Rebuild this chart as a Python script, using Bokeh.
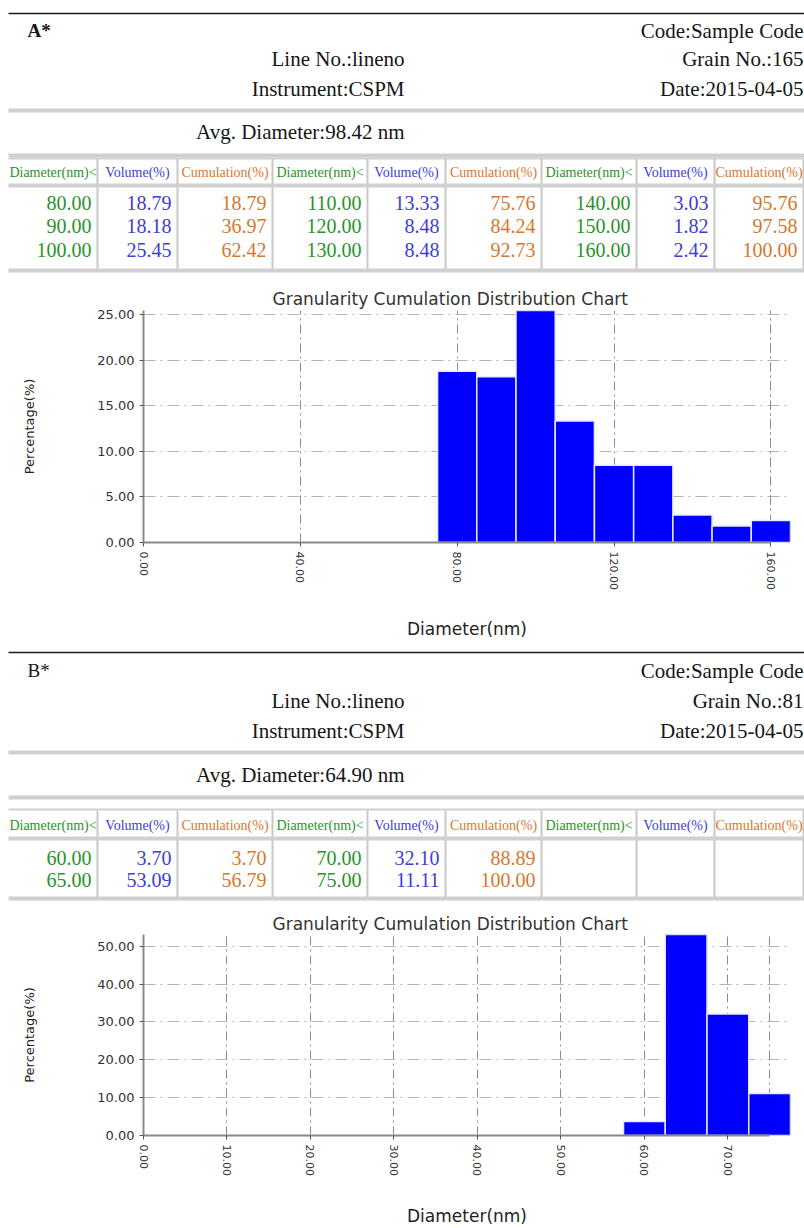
import math
from bokeh.plotting import figure
from bokeh.layouts import column
from bokeh.models import Range1d, FixedTicker, PrintfTickFormatter, Grid
from bokeh.core.properties import value
from bokeh.embed import file_html
from bokeh.resources import INLINE

# ---------------- data ----------------
section_labels = ["A*", "B*"]
codes = ["Sample Code", "Sample Code"]
line_nos = ["lineno", "lineno"]
instruments = ["CSPM", "CSPM"]
grain_nos = [165, 81]
dates = ["2015-04-05", "2015-04-05"]
avg_diameters = [98.42, 64.90]

table_headers = ["Diameter(nm)<", "Volume(%)", "Cumulation(%)"]

diam_a = [80, 90, 100, 110, 120, 130, 140, 150, 160]
vol_a = [18.79, 18.18, 25.45, 13.33, 8.48, 8.48, 3.03, 1.82, 2.42]
cum_a = [18.79, 36.97, 62.42, 75.76, 84.24, 92.73, 95.76, 97.58, 100.00]

diam_b = [60, 65, 70, 75]
vol_b = [3.70, 53.09, 32.10, 11.11]
cum_b = [3.70, 56.79, 88.89, 100.00]

x_ticks_a = [0, 40, 80, 120, 160]
y_ticks_a = [0, 5, 10, 15, 20, 25]
x_ticks_b = [0, 10, 20, 30, 40, 50, 60, 70]
y_ticks_b = [0, 10, 20, 30, 40, 50]

chart_title = "Granularity Cumulation Distribution  Chart"
x_label = "Diameter(nm)"
y_label = "Percentage(%)"

# ---------------- styles / layout ----------------
W = 804
SERIF = value("Liberation Serif")
GREEN = "#2a922a"
BLUE = "#3d3dd6"
ORANGE = "#d6782e"
TXT = "#161616"
BAND = "#d0d0d0"
VSEP = "#c8c8c8"
col_edges = [8, 97, 177, 272, 367, 445, 541, 636, 714, 803]  # page x
LEFT = 8


def header(idx, top, height, pos, bold, diam, vol, cum):
    p = figure(width=W, height=height, x_range=Range1d(0, W), y_range=Range1d(height, 0),
               x_axis_type=None, y_axis_type=None, output_backend="svg",
               toolbar_location=None, min_border=0, outline_line_color=None)
    Y = lambda v: v - top

    # top rule
    p.segment(x0=[LEFT], y0=[Y(pos["top"])], x1=[W], y1=[Y(pos["top"])],
              line_color="#1a1a1a", line_width=1.5)

    # vertical table separators
    xs = col_edges[1:]
    p.segment(x0=xs, y0=[Y(pos["table_top"])] * len(xs), x1=xs, y1=[Y(pos["bottom"])] * len(xs),
              line_color=VSEP, line_width=2)

    # grey bands
    for key in ["sep1", "sep2", "table_top", "headsep", "bottom"]:
        lw = 4 if key != "table_top" else 2
        p.segment(x0=[LEFT], y0=[Y(pos[key])], x1=[W], y1=[Y(pos[key])],
                  line_color=BAND, line_width=lw)

    # info block
    p.text(x=[27], y=[Y(pos["r1"])], text=[section_labels[idx]], text_font=SERIF,
           text_font_size="19px", text_font_style="bold" if bold else "normal",
           text_baseline="middle", text_align="left", text_color=TXT)
    p.text(x=[803] * 3, y=[Y(pos["r1"]), Y(pos["r2"]), Y(pos["r3"])],
           text=["Code:" + codes[idx], "Grain No.:%d" % grain_nos[idx], "Date:" + dates[idx]],
           text_font=SERIF, text_font_size="21px", text_baseline="middle",
           text_align="right", text_color=TXT)
    p.text(x=[404] * 3, y=[Y(pos["r2"]), Y(pos["r3"]), Y(pos["avg"])],
           text=["Line No.:" + line_nos[idx], "Instrument:" + instruments[idx],
                 "Avg. Diameter:%.2f nm" % avg_diameters[idx]],
           text_font=SERIF, text_font_size="21px", text_baseline="middle",
           text_align="right", text_color=TXT)

    # table header row
    centers = [(col_edges[i] + col_edges[i + 1]) / 2 for i in range(9)]
    p.text(x=centers, y=[Y(pos["headtext"])] * 9, text=table_headers * 3,
           text_color=[GREEN, BLUE, ORANGE] * 3, text_font=SERIF, text_font_size="14px",
           text_align="center", text_baseline="middle")

    # table body
    nrows = math.ceil(len(diam) / 3)
    tx, ty, tt, tc = [], [], [], []
    for k in range(len(diam)):
        g, r = divmod(k, nrows)
        for j, (v, c) in enumerate(zip([diam[k], vol[k], cum[k]], [GREEN, BLUE, ORANGE])):
            tx.append(col_edges[3 * g + j + 1] - 6)
            ty.append(Y(pos["rows"][r]))
            tt.append("%.2f" % v)
            tc.append(c)
    p.text(x=tx, y=ty, text=tt, text_color=tc, text_font=SERIF, text_font_size="20px",
           text_align="right", text_baseline="middle")
    return p


def chart(diam, vol, x_ticks, y_ticks, height, mb_top, mb_bottom, xlab_standoff, title_standoff):
    w = diam[1] - diam[0]
    p = figure(width=W, height=height, x_range=Range1d(0, diam[-1] + w / 2),
               y_range=Range1d(0, max(vol)), output_backend="svg", toolbar_location=None,
               min_border_left=143, min_border_right=14, min_border_top=mb_top,
               min_border_bottom=mb_bottom, outline_line_color=None, title=chart_title)
    p.title.align = "left"
    p.title.offset = 129
    p.title.standoff = title_standoff
    p.title.text_font = "DejaVu Sans"
    p.title.text_font_size = "17px"
    p.title.text_font_style = "normal"
    p.title.text_color = "#333333"

    # grid
    p.ygrid.ticker = FixedTicker(ticks=y_ticks)
    p.ygrid.bounds = (0, diam[-1])
    p.ygrid.grid_line_color = "#b4b4b4"
    p.ygrid.grid_line_dash = "12 5 2 5"
    p.ygrid.grid_line_width = 1.2
    p.xgrid.ticker = FixedTicker(ticks=x_ticks)
    p.xgrid.bounds = (0, max(vol))
    p.xgrid.grid_line_color = "#8c8c8c"
    p.xgrid.grid_line_dash = "9 4 2 4"
    p.xgrid.grid_line_width = 1
    # frame borders (top / right), dash-dot like the grid
    p.add_layout(Grid(dimension=1, ticker=FixedTicker(ticks=[max(vol)]), bounds=(0, diam[-1]),
                      grid_line_color="#b4b4b4", grid_line_dash="12 5 2 5", grid_line_width=1.2))
    p.add_layout(Grid(dimension=0, ticker=FixedTicker(ticks=[diam[-1]]), bounds=(0, max(vol)),
                      grid_line_color="#8c8c8c", grid_line_dash="9 4 2 4", grid_line_width=1))

    p.vbar(x=diam, top=vol, width=w, fill_color="#0000ff", line_color="#e6e8ff", line_width=1.5)

    for ax in (p.xaxis[0], p.yaxis[0]):
        ax.formatter = PrintfTickFormatter(format="%.2f")
        ax.axis_line_color = "#8a8a8a"
        ax.axis_line_width = 2
        ax.major_tick_line_color = "#555555"
        ax.major_tick_out = 4
        ax.major_tick_in = 0
        ax.minor_tick_line_color = None
        ax.major_label_text_font = "DejaVu Sans"
        ax.major_label_text_color = "#333333"
        ax.axis_label_text_font = "DejaVu Sans"
        ax.axis_label_text_font_style = "normal"
        ax.axis_label_text_color = "#222222"
    p.xaxis.ticker = FixedTicker(ticks=x_ticks)
    p.xaxis.bounds = (0, diam[-1])
    p.xaxis.major_label_orientation = -math.pi / 2
    p.xaxis.major_label_text_font_size = "11px"
    p.xaxis.axis_label = x_label
    p.xaxis.axis_label_text_font_size = "17px"
    p.xaxis.axis_label_standoff = xlab_standoff
    p.yaxis.ticker = FixedTicker(ticks=y_ticks)
    p.yaxis.major_label_text_font_size = "13px"
    p.yaxis.axis_label = y_label
    p.yaxis.axis_label_text_font_size = "13px"
    p.yaxis.axis_label_standoff = 57
    return p


pos_a = dict(top=13, r1=30, r2=58, r3=88, sep1=110, avg=131, sep2=155, table_top=158,
             headtext=172, headsep=185, rows=[202, 225, 249], bottom=270)
pos_b = dict(top=652, r1=670, r2=700, r3=730, sep1=752, avg=774, sep2=797, table_top=809,
             headtext=825, headsep=838, rows=[857, 879], bottom=898)

hA = header(0, 0, 280, pos_a, True, diam_a, vol_a, cum_a)
cA = chart(diam_a, vol_a, x_ticks_a, y_ticks_a, 365, 30, 103, 26, 4)
hB = header(1, 645, 260, pos_b, False, diam_b, vol_b, cum_b)
cB = chart(diam_b, vol_b, x_ticks_b, y_ticks_b, 323, 29, 89, 27, 2)

layout = column(column(hA), column(cA), column(hB), column(cB), spacing=0)
open("out.html", "w").write(file_html(layout, INLINE))
